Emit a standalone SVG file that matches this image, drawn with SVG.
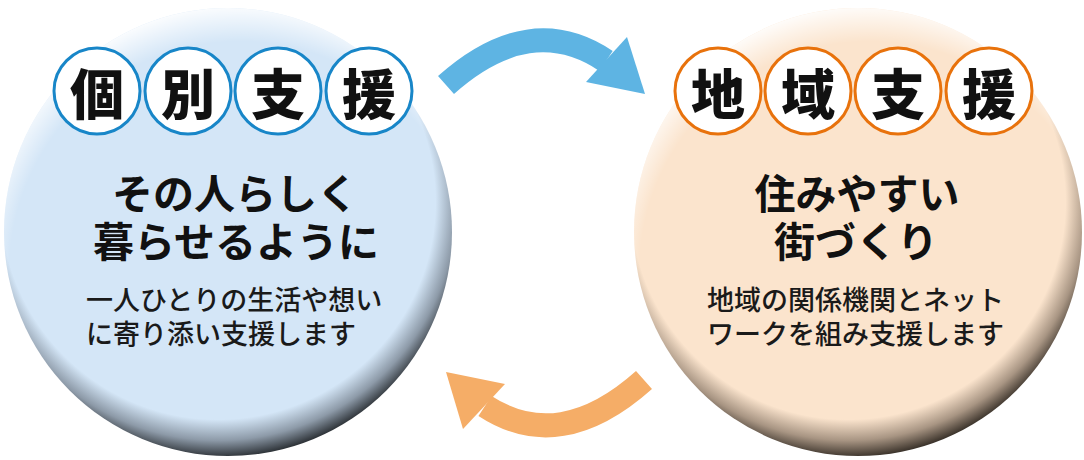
<svg xmlns="http://www.w3.org/2000/svg" width="1084" height="460" viewBox="0 0 1084 460">
<style>
.badge-b{fill:#fff;stroke:#1886c8;stroke-width:3}
.badge-o{fill:#fff;stroke:#e8720c;stroke-width:3}
.bt{font-family:"Noto Sans CJK JP","Noto Sans",sans-serif;font-weight:900;font-size:54px;fill:#111;text-anchor:middle;dominant-baseline:central}
.title{font-family:"Noto Sans CJK JP","Noto Sans",sans-serif;font-weight:700;font-size:41px;fill:#111;text-anchor:middle;dominant-baseline:central}
.sub{font-family:"Noto Sans CJK JP","Noto Sans",sans-serif;font-weight:500;font-size:27px;fill:#1a1a1a;dominant-baseline:central}
</style>
<defs>
<radialGradient id="gB" gradientUnits="userSpaceOnUse" cx="218" cy="202" r="262">
<stop offset="0" stop-color="#d4e6f7"/>
<stop offset="0.83" stop-color="#d4e6f7"/>
<stop offset="0.91" stop-color="#8d9aa8"/>
<stop offset="0.975" stop-color="#2d3237"/>
<stop offset="1" stop-color="#2d3237"/>
</radialGradient>
<radialGradient id="gO" gradientUnits="userSpaceOnUse" cx="848" cy="202" r="262">
<stop offset="0" stop-color="#fbe4cd"/>
<stop offset="0.83" stop-color="#fbe4cd"/>
<stop offset="0.91" stop-color="#a89583"/>
<stop offset="0.975" stop-color="#3a322a"/>
<stop offset="1" stop-color="#3a322a"/>
</radialGradient>
<radialGradient id="hB" gradientUnits="userSpaceOnUse" cx="240" cy="272" r="268">
<stop offset="0.86" stop-color="#fff" stop-opacity="0"/>
<stop offset="1" stop-color="#fff" stop-opacity="0.95"/>
</radialGradient>
<radialGradient id="hO" gradientUnits="userSpaceOnUse" cx="870" cy="272" r="268">
<stop offset="0.86" stop-color="#fff" stop-opacity="0"/>
<stop offset="1" stop-color="#fff" stop-opacity="0.95"/>
</radialGradient>
</defs>

<g id="connectors">
<g id="arrow-top">
<path d="M446,85 Q530,10 606,61" fill="none" stroke="#5eb4e3" stroke-width="24"/>
<polygon points="645,94 627,37 586,82" fill="#5eb4e3"/>
</g>
<g id="arrow-bottom">
<path d="M644,380 Q560,455 485,406" fill="none" stroke="#f5ad67" stroke-width="24"/>
<polygon points="446,372 505,384 463,429" fill="#f5ad67"/>
</g>
</g>

<g id="node-individual">
<circle cx="228" cy="232" r="224" fill="url(#gB)"/>
<circle cx="228" cy="232" r="224" fill="url(#hB)"/>
<circle class="badge-b" cx="97" cy="91" r="43"/>
<circle class="badge-b" cx="188" cy="91" r="43"/>
<circle class="badge-b" cx="278" cy="91" r="43"/>
<circle class="badge-b" cx="369" cy="91" r="43"/>
<text class="bt" x="97" y="91">個</text>
<text class="bt" x="188" y="91">別</text>
<text class="bt" x="278" y="91">支</text>
<text class="bt" x="369" y="91">援</text>
<text class="title"><tspan x="235" y="191">その人らしく</tspan><tspan x="236" y="239">暮らせるように</tspan></text>
<text class="sub"><tspan x="86" y="298">一人ひとりの生活や想い</tspan><tspan x="86" y="332">に寄り添い支援します</tspan></text>
</g>

<g id="node-community">
<circle cx="858" cy="232" r="224" fill="url(#gO)"/>
<circle cx="858" cy="232" r="224" fill="url(#hO)"/>
<circle class="badge-o" cx="718" cy="91" r="43"/>
<circle class="badge-o" cx="808" cy="91" r="43"/>
<circle class="badge-o" cx="898" cy="91" r="43"/>
<circle class="badge-o" cx="989" cy="91" r="43"/>
<text class="bt" x="718" y="91">地</text>
<text class="bt" x="808" y="91">域</text>
<text class="bt" x="898" y="91">支</text>
<text class="bt" x="989" y="91">援</text>
<text class="title"><tspan x="857" y="191">住みやすい</tspan><tspan x="856" y="239">街づくり</tspan></text>
<text class="sub"><tspan x="707" y="298">地域の関係機関とネット</tspan><tspan x="707" y="332">ワークを組み支援します</tspan></text>
</g>
</svg>
